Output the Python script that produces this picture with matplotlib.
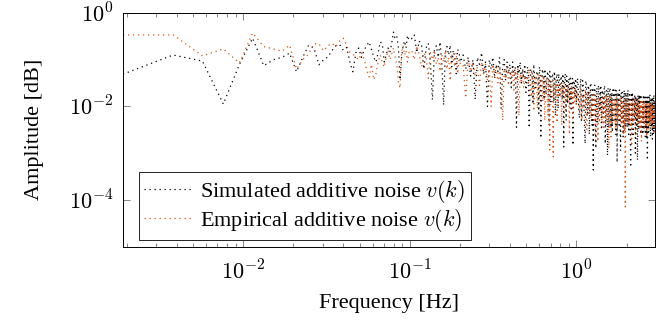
import matplotlib
matplotlib.use("Agg")
import matplotlib.pyplot as plt
import numpy as np
from matplotlib.ticker import FixedLocator, NullLocator, NullFormatter, LogLocator, FuncFormatter

# ---------------- data (DFT bins, df = frequency resolution in Hz; values are log10 amplitude) ----------------
df_hz = 0.0019

bins_low = [1, 2, 3, 4, 5, 6, 7, 8, 9, 10, 11, 12, 13, 14, 15, 16, 17]
sim_low = [-1.31, -0.90, -1.03, -1.95, -1.10, -0.54, -1.13, -1.00, -0.95, -0.86, -1.26, -0.95,
           -0.69, -0.75, -1.11, -1.00, -0.94]
emp_low = [-0.47, -0.47, -0.92, -0.77, -1.07, -0.43, -0.72, -0.77, -0.82, -0.69, -1.20, -1.00,
           -0.88, -0.66, -0.66, -0.81, -0.70]

bins_mid1 = [18, 19, 20, 21, 22, 23, 24, 25, 26, 27, 28, 29, 30, 31, 32, 33, 34, 35, 36, 37, 38,
             39, 40, 41, 42, 43, 44, 45, 46, 47, 48, 49, 50, 51, 52]
sim_mid1 = [-0.80, -0.70, -0.68, -0.80, -0.74, -1.05, -1.26, -0.85, -0.75, -0.95, -0.80, -0.70,
            -0.62, -0.78, -0.95, -1.05, -0.85, -0.62, -0.66, -1.05, -0.90, -0.75, -0.84, -0.65,
            -0.41, -0.55, -0.50, -0.75, -1.43, -0.95, -0.70, -0.60, -0.75, -0.48, -0.58]
emp_mid1 = [-0.65, -0.72, -0.60, -0.54, -0.70, -0.84, -0.88, -0.94, -1.00, -0.85, -0.98, -1.22,
            -1.37, -1.10, -1.43, -1.30, -1.05, -0.90, -1.05, -1.16, -0.95, -0.80, -1.00, -0.88,
            -0.75, -0.95, -1.10, -1.48, -1.61, -0.84, -0.70, -0.90, -0.80, -1.05, -0.85]

bins_mid2 = [54, 56, 58, 60, 62, 64, 66, 68, 70, 72, 74, 76, 78, 80, 82, 84, 86, 88, 90, 92, 94,
             96, 98, 100, 102, 104, 106]
sim_mid2 = [-0.55, -0.47, -0.85, -0.60, -0.70, -1.20, -0.75, -0.65, -1.05, -1.86, -0.80, -0.70,
            -0.95, -0.62, -1.10, -1.97, -0.85, -0.72, -0.90, -0.69, -1.15, -0.80, -0.95, -1.30,
            -0.78, -0.85, -1.05]
emp_mid2 = [-0.80, -1.00, -0.70, -0.90, -1.15, -0.85, -0.95, -1.40, -0.85, -1.00, -0.80, -1.10,
            -0.95, -1.25, -0.90, -1.05, -0.80, -1.20, -0.95, -1.45, -0.88, -1.00, -1.15, -0.85,
            -1.30, -1.00, -1.10]

bins_high1 = [110, 114, 118, 122, 126, 130, 134, 138, 142, 146, 150, 154, 158, 162, 166, 170, 174,
              178, 182, 186, 190, 194, 198, 202, 206, 210, 214, 218, 222, 226, 230, 234, 238, 242,
              246, 250, 254, 258, 262]
sim_high1 = [-0.90, -1.20, -0.95, -1.35, -1.00, -1.85, -0.95, -1.10, -0.85, -1.30, -1.05, -2.00,
             -1.00, -1.20, -0.95, -1.40, -1.10, -1.25, -0.95, -2.05, -1.15, -1.00, -1.45, -1.05,
             -1.30, -1.10, -1.60, -1.05, -1.35, -1.15, -2.45, -1.10, -1.30, -1.05, -1.50, -1.20,
             -1.40, -1.10, -1.70]
emp_high1 = [-1.10, -1.82, -1.00, -1.25, -1.05, -1.35, -1.15, -1.55, -1.05, -1.30, -1.10, -1.45,
             -1.20, -2.00, -1.10, -1.35, -1.15, -1.50, -1.20, -1.30, -2.30, -1.20, -1.40, -1.15,
             -1.55, -1.25, -1.35, -1.20, -1.65, -1.25, -1.45, -1.20, -2.20, -1.30, -1.50, -1.25,
             -1.60, -1.35, -1.45]

bins_high2 = [268, 274, 280, 286, 292, 298, 304, 310, 316, 322, 328, 334, 340, 346, 352, 358, 364,
              370, 376, 382, 388, 394, 400, 406, 412, 418, 424, 430, 436, 442, 448, 454, 460, 466,
              472, 478, 484, 490, 496, 502, 508, 514, 520, 526]
sim_high2 = [-1.15, -2.46, -1.20, -1.45, -1.10, -1.60, -1.25, -1.40, -1.15, -2.68, -1.25, -1.50,
             -1.20, -1.75, -1.30, -1.45, -1.25, -1.90, -1.30, -1.55, -1.25, -2.20, -1.35, -1.60,
             -1.30, -1.80, -1.40, -1.55, -1.30, -2.87, -1.40, -1.70, -1.35, -1.95, -1.45, -1.65,
             -1.35, -2.10, -1.50, -2.83, -1.45, -1.75, -1.40, -1.90]
emp_high2 = [-1.40, -1.20, -1.70, -1.30, -2.10, -1.35, -1.55, -1.30, -1.85, -1.40, -1.60, -1.35,
             -2.30, -1.45, -1.65, -1.40, -2.93, -1.50, -1.70, -3.08, -1.50, -1.75, -1.45, -2.00,
             -1.55, -1.80, -1.50, -2.40, -1.60, -1.75, -1.50, -2.05, -1.60, -1.85, -1.55, -2.60,
             -1.65, -1.85, -1.55, -2.10, -1.70, -1.90, -1.60, -2.00]

bins_high2b = [271, 277, 283, 289, 295, 301, 307, 313, 319, 325, 331, 337, 343, 349, 355, 361, 367,
               373, 379, 385, 391, 397, 403, 409, 415, 421, 427, 433, 439, 445, 451, 457, 463, 469,
               475, 481, 487, 493, 499, 505, 511, 517, 523]
sim_high2b = [-1.30, -1.75, -1.20, -1.95, -1.35, -1.55, -1.25, -2.15, -1.30, -1.60, -1.20, -1.85,
              -1.35, -1.50, -1.25, -2.40, -1.35, -1.70, -1.30, -1.90, -1.40, -1.55, -1.30, -2.05,
              -1.40, -1.65, -1.35, -1.85, -1.45, -1.60, -1.30, -2.30, -1.45, -1.75, -1.40, -1.95,
              -1.50, -1.65, -1.40, -2.15, -1.45, -1.80, -1.50]
emp_high2b = [-1.55, -1.30, -1.80, -1.40, -1.65, -1.35, -2.05, -1.45, -1.60, -1.35, -1.90, -1.45,
              -1.70, -1.40, -2.20, -1.50, -1.65, -1.45, -1.85, -1.55, -1.70, -1.45, -2.35, -1.55,
              -1.75, -1.50, -1.95, -1.60, -1.70, -1.50, -2.10, -1.60, -1.80, -1.55, -2.00, -1.65,
              -1.75, -1.55, -2.25, -1.65, -1.85, -1.60, -1.95]

bins_high3 = [534, 544, 554, 564, 574, 584, 594, 604, 614, 624, 634, 644, 654, 664, 674, 684, 694,
              704, 714, 724, 734, 744, 754, 764, 774, 784, 794, 804, 814, 824, 834, 844, 854, 864,
              874, 884, 894, 904, 914, 924, 934, 944, 954, 964, 974, 984, 994, 1004, 1014, 1024,
              1034, 1044, 1054, 1064, 1074, 1084, 1094, 1104, 1114, 1124, 1134, 1144, 1154, 1164,
              1174, 1184, 1194, 1204, 1214, 1224, 1234, 1244, 1254, 1264, 1274, 1284, 1294, 1304,
              1314, 1324, 1334, 1344, 1354, 1364, 1374, 1384, 1394, 1404, 1414, 1424, 1434, 1444,
              1454, 1464, 1474, 1484, 1494, 1504, 1514, 1524, 1534, 1544, 1554, 1564]
sim_high3 = [-1.40, -2.10, -1.55, -2.30, -1.45, -1.95, -2.80, -1.50, -2.20, -1.60,
             -2.00, -1.50, -2.40, -3.36, -1.55, -2.10, -1.65, -2.35, -1.55, -2.00,
             -1.60, -2.50, -1.65, -2.15, -1.55, -2.80, -1.70, -2.20, -1.60, -2.45,
             -1.65, -2.10, -1.70, -2.55, -1.60, -2.25, -1.75, -2.40, -1.65, -3.20,
             -1.70, -2.30, -1.65, -2.50, -1.75, -2.20, -1.70, -2.65, -1.80, -2.30,
             -1.70, -2.45, -1.75, -2.25, -1.65, -2.60, -1.80, -2.35, -3.30, -1.75,
             -2.40, -1.70, -2.55, -1.80, -2.30, -1.75, -2.70, -1.80, -2.35, -3.15,
             -1.75, -2.45, -1.85, -2.30, -1.75, -2.60, -1.80, -2.40, -1.85, -2.55,
             -1.75, -2.35, -1.85, -2.65, -1.80, -2.40, -1.90, -3.15, -1.80, -2.50,
             -1.85, -2.35, -1.75, -2.60, -1.90, -2.45, -1.80, -2.70, -1.85, -2.40,
             -1.75, -2.55, -1.90, -2.45]
emp_high3 = [-1.70, -1.95, -1.60, -2.20, -1.75, -2.05, -1.65, -2.40, -1.80, -2.00,
             -1.70, -2.25, -1.85, -2.10, -1.75, -2.60, -1.80, -2.15, -1.90, -2.35,
             -1.75, -2.05, -1.85, -2.45, -1.80, -2.10, -1.90, -2.30, -1.80, -2.90,
             -1.85, -2.15, -1.80, -2.35, -1.90, -2.05, -1.85, -2.50, -1.80, -2.20,
             -1.90, -2.30, -1.85, -2.10, -1.80, -2.40, -1.90, -2.20, -1.85, -2.55,
             -4.15, -1.90, -2.25, -1.85, -2.35, -1.95, -2.15, -1.85, -2.45, -1.90,
             -2.20, -1.80, -2.35, -1.95, -2.15, -1.85, -2.60, -1.90, -2.25, -1.95,
             -2.40, -1.85, -2.20, -1.95, -2.30, -1.90, -2.75, -1.85, -2.25, -2.00,
             -2.35, -1.90, -2.20, -1.95, -2.45, -1.90, -2.30, -2.00, -2.20, -1.95,
             -2.50, -1.90, -2.25, -2.00, -2.35, -1.95, -2.20, -1.90, -2.40, -2.00,
             -2.30, -1.95, -2.55, -2.05]

bins_high3b = [539, 549, 559, 569, 579, 589, 599, 609, 619, 629, 639, 649, 659, 669, 679, 689, 699,
               709, 719, 729, 739, 749, 759, 769, 779, 789, 799, 809, 819, 829, 839, 849, 859, 869,
               879, 889, 899, 909, 919, 929, 939, 949, 959, 969, 979, 989, 999, 1009, 1019, 1029,
               1039, 1049, 1059, 1069, 1079, 1089, 1099, 1109, 1119, 1129, 1139, 1149, 1159, 1169,
               1179, 1189, 1199, 1209, 1219, 1229, 1239, 1249, 1259, 1269, 1279, 1289, 1299, 1309,
               1319, 1329, 1339, 1349, 1359, 1369, 1379, 1389, 1399, 1409, 1419, 1429, 1439, 1449,
               1459, 1469, 1479, 1489, 1499, 1509, 1519, 1529, 1539, 1549, 1559]
sim_high3b = [-1.50, -2.25, -1.40, -2.00, -1.60, -2.45, -1.45, -2.15, -1.55, -2.60,
              -1.50, -2.20, -1.60, -2.05, -1.55, -2.90, -1.60, -2.25, -1.65, -2.10,
              -1.55, -2.35, -1.70, -2.05, -1.60, -2.40, -1.65, -3.05, -1.70, -2.20,
              -1.60, -2.45, -1.70, -2.15, -1.75, -2.35, -1.65, -2.60, -1.75, -2.20,
              -1.70, -2.40, -1.80, -2.95, -1.70, -2.30, -1.75, -2.20, -1.65, -2.50,
              -1.80, -2.25, -1.70, -2.45, -1.85, -2.30, -1.75, -2.55, -1.80, -2.20,
              -1.75, -2.65, -1.85, -2.30, -1.75, -3.00, -1.80, -2.40, -1.85, -2.25,
              -1.80, -2.50, -1.75, -2.35, -1.90, -2.45, -1.80, -2.60, -1.85, -2.30,
              -1.90, -2.50, -1.80, -2.35, -1.85, -2.70, -1.80, -2.40, -1.90, -2.55,
              -1.80, -2.30, -1.90, -2.65, -1.85, -2.45, -1.95, -2.35, -1.80, -2.60,
              -1.85, -2.40, -1.90]
emp_high3b = [-1.80, -2.10, -1.65, -2.30, -1.75, -2.00, -1.85, -2.50, -1.70, -2.15,
              -1.85, -2.05, -1.75, -2.35, -1.80, -2.20, -1.95, -2.75, -1.80, -2.10,
              -1.90, -2.30, -1.80, -2.15, -1.85, -2.40, -1.75, -2.20, -1.90, -2.05,
              -1.80, -2.65, -1.90, -2.20, -1.85, -2.30, -1.95, -2.10, -1.85, -2.45,
              -1.90, -2.20, -1.80, -2.35, -1.95, -2.15, -1.90, -2.60, -1.85, -2.25,
              -1.95, -2.30, -1.85, -2.10, -1.95, -2.40, -1.90, -2.25, -2.00, -2.85,
              -1.90, -2.30, -1.95, -2.15, -1.90, -2.45, -2.00, -2.20, -1.90, -2.35,
              -1.95, -2.25, -2.00, -2.50, -1.90, -2.20, -2.00, -2.35, -1.95, -2.30,
              -2.00, -2.45, -1.95, -2.20, -2.05, -2.65, -1.95, -2.30, -2.00, -2.25,
              -1.95, -2.40, -2.05, -2.20, -1.95, -2.35, -2.05, -2.50, -2.00, -2.30,
              -1.95, -2.45, -2.05]

legend_labels = [r"Simulated additive noise $v(k)$", r"Empirical additive noise $v(k)$"]
x_label = "Frequency [Hz]"
y_label = "Amplitude [dB]"


# ---------------- assemble ----------------
def assemble(bin_lists, val_lists):
    b, v = [], []
    for bl, vl in zip(bin_lists, val_lists):
        m = min(len(bl), len(vl))
        b += bl[:m]
        v += vl[:m]
    b = np.array(b, dtype=float)
    v = np.array(v, dtype=float)
    order = np.argsort(b, kind="stable")
    return b[order] * df_hz, 10.0 ** v[order]


all_bins = [bins_low, bins_mid1, bins_mid2, bins_high1, bins_high2, bins_high2b, bins_high3, bins_high3b]
sim_f, sim_amp = assemble(all_bins, [sim_low, sim_mid1, sim_mid2, sim_high1, sim_high2, sim_high2b,
                                     sim_high3, sim_high3b])
emp_f, emp_amp = assemble(all_bins, [emp_low, emp_mid1, emp_mid2, emp_high1, emp_high2, emp_high2b,
                                     emp_high3, emp_high3b])

plt.rcParams["font.family"] = ["Liberation Serif", "DejaVu Serif"]
plt.rcParams["mathtext.fontset"] = "cm"

fig = plt.figure(figsize=(6.72, 3.24), dpi=100)
ax = fig.add_axes([0.183, 0.239, 0.792, 0.721])

dot = (0, (1, 3.0))
ax.plot(sim_f, sim_amp, color="black", lw=0.9, ls=dot, label=legend_labels[0])
ax.plot(emp_f, emp_amp, color="#D95319", lw=0.9, ls=dot, label=legend_labels[1])

ax.set_xscale("log")
ax.set_yscale("log")
ax.set_xlim(bins_low[0] * df_hz, bins_high3[-1] * df_hz)
ax.set_ylim(1e-5, 1)

fmt = FuncFormatter(lambda v, p: r"$10^{%d}$" % int(round(np.log10(v))))
ax.yaxis.set_major_locator(FixedLocator([1e-4, 1e-2, 1e0]))
ax.yaxis.set_minor_locator(NullLocator())
ax.yaxis.set_major_formatter(fmt)
ax.xaxis.set_major_locator(FixedLocator([1e-2, 1e-1, 1e0]))
ax.xaxis.set_minor_locator(LogLocator(base=10, subs=np.arange(2, 10)))
ax.xaxis.set_major_formatter(fmt)
ax.xaxis.set_minor_formatter(NullFormatter())

ax.tick_params(which="both", direction="in", top=True, right=True, labelsize=16, width=0.5,
               color="#555555")
ax.tick_params(which="major", length=5)
ax.tick_params(which="minor", length=3)
ax.tick_params(axis="x", which="major", pad=10)
ax.tick_params(axis="y", which="major", pad=7)
for s in ax.spines.values():
    s.set_linewidth(0.7)

ax.set_xlabel(x_label, fontsize=16, labelpad=7)
ax.set_ylabel(y_label, fontsize=16, labelpad=18)

leg = ax.legend(loc="lower left", bbox_to_anchor=(0.03, 0.029), borderaxespad=0,
                fontsize=16, frameon=True, fancybox=False, framealpha=1, edgecolor="black",
                handlelength=2.2, handletextpad=0.3, labelspacing=0.12, borderpad=0.25)
leg.get_frame().set_linewidth(0.6)

fig.savefig("out.png", dpi=100)
